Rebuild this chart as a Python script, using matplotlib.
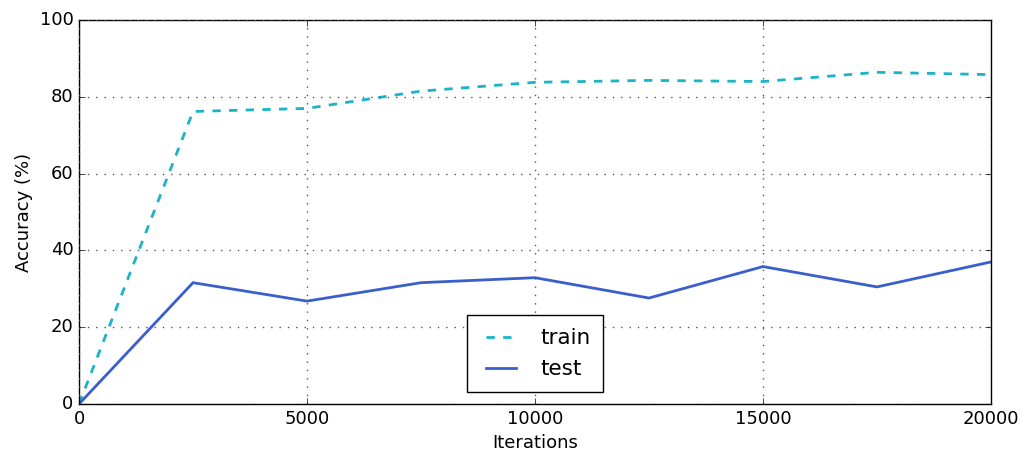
import matplotlib
matplotlib.use('Agg')
import matplotlib.pyplot as plt

plt.style.use('classic')

iterations = [0, 2500, 5000, 7500, 10000, 12500, 15000, 17500, 20000]
train_acc = [0, 76.2, 77.0, 81.5, 83.8, 84.3, 84.0, 86.4, 85.8]
test_acc = [0, 31.6, 26.8, 31.6, 32.9, 27.6, 35.8, 30.5, 37.0]

fig = plt.figure(figsize=(10.25, 4.57), dpi=100, facecolor='white')
ax = fig.add_axes([0.0771, 0.116, 0.8897, 0.840])

ax.plot(iterations, train_acc, '--', color='#1ab3c8', lw=2, label='train')
ax.plot(iterations, test_acc, '-', color='#3a5fcd', lw=2, label='test')

ax.set_xlim(0, 20000)
ax.set_ylim(0, 100)
ax.set_xticks(range(0, 20001, 5000))
ax.set_yticks(range(0, 101, 20))
ax.tick_params(labelsize=13)
ax.grid(True, color='#555555', linestyle=(0, (1, 5)), lw=1)
ax.set_xlabel('Iterations', fontsize=13)
ax.set_ylabel('Accuracy (%)', fontsize=13)

ax.legend(loc='lower center', bbox_to_anchor=(0.5, 0.031), fontsize=15.5,
          borderpad=0.6, borderaxespad=0)

fig.savefig('out.png', dpi=100, facecolor='white')
